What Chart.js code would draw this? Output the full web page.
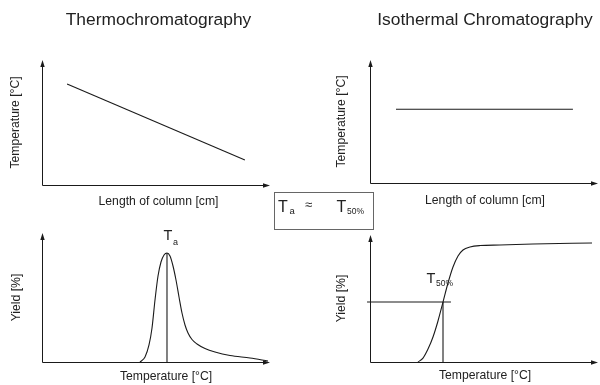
<!DOCTYPE html>
<html><head><meta charset="utf-8">
<script src="https://cdn.jsdelivr.net/npm/chart.js@4"></script>
<style>
html,body{margin:0;padding:0;background:#fff;overflow:hidden;}
#wrap{position:relative;width:600px;height:385px;font-family:'Liberation Sans',Arial,sans-serif;color:#222;}
#wrap canvas{position:absolute;}
#box{position:absolute;left:274px;top:192px;width:100px;height:38px;box-sizing:border-box;border:1px solid #666;}
#box span{position:absolute;line-height:1;white-space:nowrap;}
</style></head><body>
<div id="wrap">
<canvas id="tl" width="300" height="215" style="left:0;top:0"></canvas>
<canvas id="tr" width="300" height="215" style="left:300px;top:0"></canvas>
<canvas id="bl" width="300" height="170" style="left:0;top:215px"></canvas>
<canvas id="br" width="300" height="170" style="left:300px;top:215px"></canvas>
<div id="box">
<span style="left:3px;top:5.5px;font-size:16px">T</span>
<span style="left:14.5px;top:13px;font-size:9.5px">a</span>
<span style="left:30px;top:4.5px;font-size:13px">≈</span>
<span style="left:61.5px;top:5.5px;font-size:16px">T</span>
<span style="left:72px;top:13.5px;font-size:8.5px">50%</span>
</div>
</div>
<script>
// ---- text ----
const panelTitles = ['Thermochromatography', 'Isothermal Chromatography'];
const xAxisLabels = ['Length of column [cm]', 'Length of column [cm]', 'Temperature [°C]', 'Temperature [°C]'];
const yAxisLabels = ['Temperature [°C]', 'Temperature [°C]', 'Yield [%]', 'Yield [%]'];

// ---- data (arbitrary units, 0..100 on each axis) ----
const thermoColumnPos = [11, 89];
const thermoTemp = [80.8, 20];

const isoColumnPos = [11.4, 89];
const isoTemp = [60, 60];

const peakTemp  = [42.98, 45.18, 46.93, 48.25, 49.56, 50.88, 52.19, 53.51, 54.82, 56.14, 57.46, 58.77, 60.09, 61.40, 62.72, 64.04, 65.79, 67.98, 71.49, 75.88, 82.46, 91.23, 99.12];
const peakYield = [0,     3.88,  13.18, 26.36, 48.06, 66.67, 77.52, 82.95, 84.50, 82.17, 74.42, 63.57, 50.39, 37.98, 28.68, 22.48, 17.44, 13.95, 10.47, 7.75,  5.04,  3.10,  0.78];
const peakMarkerTemp  = [54.82, 54.82];
const peakMarkerYield = [0, 84.5];

const sigTemp  = [21.05, 23.25, 25.44, 27.63, 29.82, 32.02, 34.21, 36.40, 38.60, 40.79, 43.86, 48.25, 57.02, 71.49, 97.37];
const sigYield = [0,     3.1,   10.2,  19.7,  32.3,  47.2,  62.2,  74.8,  83.5,  88.2,  90.6,  91.7,  92.1,  92.9,  93.7];
const t50VertTemp  = [32.02, 32.02];
const t50VertYield = [0, 47.2];
const t50HorizTemp  = [-1.3, 35.5];
const t50HorizYield = [47.2, 47.2];

const FONT = "'Liberation Sans', Arial, sans-serif";
const INK = '#1a1a1a';

function pts(xs, ys) { return xs.map((x, i) => ({x: x, y: ys[i]})); }

function ds(xs, ys, curved) {
  return {
    data: pts(xs, ys), borderColor: INK, borderWidth: 1.1, pointRadius: 0,
    fill: false, clip: false, tension: 0,
    cubicInterpolationMode: curved ? 'monotone' : 'default'
  };
}

const axisArrows = {
  id: 'axisArrows',
  beforeDatasetsDraw(chart) {
    const {ctx, chartArea, scales} = chart;
    const x0 = Math.round(chartArea.left) + 0.5;
    const y0 = Math.round(chartArea.bottom) + 0.5;
    const xEnd = scales.x.getPixelForValue(100);
    const yEnd = scales.y.getPixelForValue(100);
    ctx.save();
    ctx.strokeStyle = INK; ctx.fillStyle = INK; ctx.lineWidth = 1;
    ctx.beginPath();
    ctx.moveTo(x0, y0); ctx.lineTo(x0, yEnd + 5);
    ctx.moveTo(x0, y0); ctx.lineTo(xEnd - 5, y0);
    ctx.stroke();
    ctx.beginPath();
    ctx.moveTo(x0, yEnd); ctx.lineTo(x0 - 2.2, yEnd + 7); ctx.lineTo(x0 + 2.2, yEnd + 7); ctx.closePath(); ctx.fill();
    ctx.beginPath();
    ctx.moveTo(xEnd, y0); ctx.lineTo(xEnd - 7, y0 - 2.2); ctx.lineTo(xEnd - 7, y0 + 2.2); ctx.closePath(); ctx.fill();
    ctx.restore();
  }
};

const subLabels = {
  id: 'subLabels',
  afterDatasetsDraw(chart, args, opts) {
    const ctx = chart.ctx;
    (opts.items || []).forEach(it => {
      const px = chart.scales.x.getPixelForValue(it.x) + it.dx;
      const py = chart.scales.y.getPixelForValue(it.y) + it.dy;
      ctx.save();
      ctx.fillStyle = '#222';
      ctx.textBaseline = 'alphabetic'; ctx.textAlign = 'left';
      ctx.font = it.size + 'px ' + FONT;
      ctx.fillText(it.main, px, py);
      const w = ctx.measureText(it.main).width;
      ctx.font = it.subSize + 'px ' + FONT;
      ctx.fillText(it.sub, px + w + it.subGap, py + it.subDrop);
      ctx.restore();
    });
  }
};

function makeChart(id, cfg) {
  return new Chart(document.getElementById(id), {
    type: 'line',
    data: {datasets: cfg.datasets},
    options: {
      responsive: false, animation: false, events: [],
      layout: {padding: cfg.layoutPad},
      plugins: {
        legend: {display: false}, tooltip: {enabled: false},
        title: {
          display: !!cfg.title, text: cfg.title || '', fullSize: false,
          color: '#222', font: {family: FONT, size: 17.4, weight: 'normal'},
          padding: {top: 9.56, bottom: 29.56}
        },
        subLabels: {items: cfg.labels || []}
      },
      scales: {
        x: {
          type: 'linear', min: 0, max: cfg.xMax,
          grid: {display: false, drawTicks: false}, border: {display: false},
          ticks: {display: false},
          title: {display: true, text: cfg.xTitle, color: '#222',
                  font: {family: FONT, size: 12.2}, padding: cfg.xTitlePad}
        },
        y: {
          type: 'linear', min: 0, max: 100,
          grid: {display: false, drawTicks: false}, border: {display: false},
          ticks: {display: false},
          title: {display: true, text: cfg.yTitle, color: '#222',
                  font: {family: FONT, size: 12.2}, padding: cfg.yTitlePad}
        }
      }
    },
    plugins: [axisArrows, subLabels]
  });
}

makeChart('tl', {
  title: panelTitles[0], xTitle: xAxisLabels[0], yTitle: yAxisLabels[0],
  datasets: [ds(thermoColumnPos, thermoTemp, false)],
  xMax: 102.2, layoutPad: {left: 0, right: 25, top: 0, bottom: 0},
  xTitlePad: {top: 9.68, bottom: 5.68}, yTitlePad: {top: 8.68, bottom: 18.68}
});

makeChart('tr', {
  title: panelTitles[1], xTitle: xAxisLabels[1], yTitle: yAxisLabels[1],
  datasets: [ds(isoColumnPos, isoTemp, false)],
  xMax: 100.88, layoutPad: {left: 0, right: 0, top: 0, bottom: 0},
  xTitlePad: {top: 10.68, bottom: 6.68}, yTitlePad: {top: 34.68, bottom: 20.68}
});

makeChart('bl', {
  xTitle: xAxisLabels[2], yTitle: yAxisLabels[2],
  datasets: [ds(peakTemp, peakYield, true), ds(peakMarkerTemp, peakMarkerYield, false)],
  xMax: 108.77, layoutPad: {left: 0, right: 10, top: 18, bottom: 0},
  xTitlePad: {top: 7.68, bottom: 0.68}, yTitlePad: {top: 9.68, bottom: 17.68},
  labels: [{x: peakMarkerTemp[0], y: peakMarkerYield[1], dx: -3.5, dy: -12.5,
            main: 'T', sub: 'a', size: 14.5, subSize: 9, subGap: 0.6, subDrop: 4.5}]
});

makeChart('br', {
  xTitle: xAxisLabels[3], yTitle: yAxisLabels[3],
  datasets: [ds(sigTemp, sigYield, true), ds(t50VertTemp, t50VertYield, false), ds(t50HorizTemp, t50HorizYield, false)],
  xMax: 100.88, layoutPad: {left: 0, right: 0, top: 20, bottom: 0},
  xTitlePad: {top: 6.68, bottom: 1.68}, yTitlePad: {top: 34.68, bottom: 20.68},
  labels: [{x: t50VertTemp[0], y: t50VertYield[1], dx: -16.5, dy: -19,
            main: 'T', sub: '50%', size: 14.5, subSize: 8.5, subGap: 0.6, subDrop: 3}]
});
</script>
</body></html>
